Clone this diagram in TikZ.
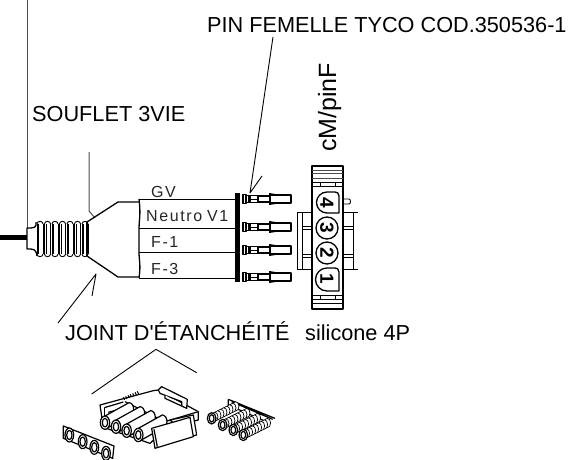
\documentclass[tikz,border=0pt]{standalone}
\usepackage{fontspec}
\setmainfont{Liberation Sans}
\newfontfamily\plainlabel{Liberation Sans}
\tikzset{
  cad/.style={line width=1.3pt,black,line join=round},
  thin cad/.style={line width=0.9pt,black,line join=round},
  grayline/.style={line width=1pt,black!70},
  lbl/.style={anchor=base west,inner sep=0pt,font=\fontsize{21.7}{22}\selectfont},
  wirelbl/.style={anchor=base west,inner sep=0pt,font=\fontsize{16}{16}\selectfont\addfontfeature{LetterSpace=10},black!85},
  iso/.style={line width=1.2pt,black,line join=round,fill=white}
}
\begin{document}
\begin{tikzpicture}[x=1pt,y=-1pt]
\useasboundingbox (0,0) rectangle (579,459);
% labels
\node[lbl] (pin) at (207,32) {PIN FEMELLE TYCO COD.350536-1};
\node[lbl] (souf) at (32,121) {SOUFLET 3VIE};
\node[lbl] (joint) at (65,340) {\plainlabel JOINT D'ÉTANCHÉITÉ};
\node[lbl] (sil) at (305,340) {silicone 4P};
\node[lbl,rotate=90,font=\fontsize{25}{25}\selectfont] (cm) at (336,152) {cM/pinF};
% leaders
\draw[grayline] (27,0) -- (27,228);
\draw[grayline] (89,152) -- (89,211) -- (95,218);
\draw[thin cad] (58,323) -- (96,274) -- (92,296);
\draw[thin cad] (273,37) -- (250,193) -- (262,176);
% cable
\draw[line width=5pt] (0,237) -- (27,237);
% boot
\draw[cad] (36,222) .. controls (37,228) and (34,228) .. (27,228) -- (27,249)
  .. controls (34,249) and (36,249) .. (37,256);
\foreach \a in {37,44.5,52,59.5,67,74.5,82}{
  \draw[thin cad] (\a,224) -- (\a,254) (\a+1.8,224) -- (\a+1.8,254) (\a+6,224) -- (\a+6,254);
  \draw[thin cad] (\a,224) .. controls (\a,220.5) and (\a+6,220.5) .. (\a+6,224);
  \draw[thin cad] (\a,254) .. controls (\a,257.5) and (\a+6,257.5) .. (\a+6,254);
}
\draw[cad] (87,222) -- (87,256);
\draw[cad] (87,222) -- (118,202) -- (139,202);
\draw[cad] (87,256) -- (118,277) -- (139,277);
% wires
\draw[cad] (139,199) .. controls (141,215) and (139,220) .. (139,228) -- (139,252) .. controls (139,260) and (141,265) .. (139,278);
\draw[thin cad] (139,199) -- (235,199) (139,228) -- (235,228) (139,252) -- (235,252) (139,278) -- (235,278);
\node[wirelbl] (gv) at (151,197) {GV};
\node[wirelbl] (neutro) at (146,221) {Neutro\hspace{5pt}V1};
\node[wirelbl] (f1) at (151,247) {F-1};
\node[wirelbl] (f3) at (151,274) {F-3};
\fill (235,193) rectangle (239.5,282);
% pins
\foreach \y in {199,227,250,277}{
  \draw[cad] (243,\y-4.5) rectangle (246,\y+4.5);
  \draw[cad] (246,\y-3.5) rectangle (258,\y+3.5);
  \fill (248,\y-3.5) rectangle (251,\y+3.5);
  \draw[thin cad] (251,\y) -- (258,\y);
  \draw[line width=1.6pt] (258,\y-3) -- (270,\y-3) (258,\y+3) -- (270,\y+3);
  \draw[thin cad] (270,\y-6) -- (270,\y+6);
  \draw[cad] (270,\y-4) rectangle (291,\y+4);
  \fill (269,\y-6) -- (282,\y-4) -- (269,\y-3) -- cycle;
  \fill (269,\y+6) -- (282,\y+4) -- (269,\y+3) -- cycle;
}
% connector
\draw[cad] (312,166) rectangle (343,309);
\draw[thin cad,black!70] (312,170) -- (343,170) (312,173) -- (343,173) (312,178) -- (343,178);
\draw[thin cad] (312,182) -- (343,182)
 (312,186) -- (343,186) (312,295) -- (343,295) (312,299) -- (343,299) (312,303) -- (343,303);
\draw[thin cad] (320,182) -- (320,186) (335,182) -- (335,186) (320,295) -- (320,299) (335,295) -- (335,299);
\draw[cad] (335,192) -- (327,192) arc (-90:-270:10.5) -- (339,213) -- (339,196) .. controls (339,193) and (337,192) .. (335,192) -- cycle;
\draw[cad] (335,268) -- (327,268) arc (-90:-270:11.5) -- (339,291) -- (339,272) .. controls (339,269) and (337,268) .. (335,268) -- cycle;
\draw[cad,fill=white] (327,228) circle (11);
\draw[cad,fill=white] (327,253) circle (11);
\foreach \y/\d in {203/4,228/3,253/2,279/1}{
  \node[rotate=-90,inner sep=0pt,font=\fontsize{19}{19}\selectfont\bfseries] (d\d) at (327,\y) {\d};
}
\draw[thin cad] (343,199) -- (349,199) .. controls (351,199) and (351,204) .. (349,204) -- (343,204);
\draw[thin cad] (297,212) -- (297,269) (302,212) -- (302,269) (297,212) -- (312,212) (297,269) -- (312,269);
\draw[thin cad] (302,226) -- (312,226) (302,229) -- (312,229) (302,254) -- (312,254) (302,257) -- (312,257);
\draw[thin cad] (343,212) -- (358,212) (343,269) -- (358,269) (353,212) -- (353,269);
\draw[thin cad] (343,226) -- (353,226) (343,229) -- (353,229) (343,254) -- (353,254) (343,257) -- (353,257);
% exploded view (zoom coordinates, scale 1/3)
\begin{scope}[shift={(50,340)},x=0.3333pt,y=-0.3333pt]
  \draw[line width=0.9pt] (125,162) -- (318,28) -- (440,98);
  % main housing
  \draw[iso] (150,195) -- (220,176) -- (310,152) -- (325,150) -- (445,215) -- (445,240) -- (350,265) -- (300,310) -- (160,262) -- cycle;
  \draw[iso] (163,203) -- (163,240);
  \draw[iso] (163,203) -- (220,186);
  \draw[iso] (225,185) -- (345,245) -- (445,215);
  \draw[iso] (175,217) -- (225,203);
  \foreach \i in {0,...,6}{\draw[line width=1pt] (220+7*\i,172-3*\i) -- (224+7*\i,180-3*\i);}
  % cylinders
  \foreach \x/\y in {165/248,198/260,230/272,265/285}{
    \begin{scope}[shift={(\x,\y)}]
      \draw[iso] (0,-20) -- (72,-60) arc (-90:90:14 and 20) -- (0,20) -- cycle;
      \draw[iso] (0,0) ellipse (14 and 20);
      \draw[iso] (0,0) ellipse (8 and 13);
    \end{scope}
  }
  % rear latch
  \draw[iso] (325,150) -- (335,140) -- (412,178) -- (410,205) -- (395,198) -- (395,185) -- (330,160) -- cycle;
  \draw[iso] (345,165) -- (345,175) -- (395,198);
  % front plate
  \draw[iso] (360,240) -- (430,225) -- (440,285) -- (420,290) -- cycle;
  \draw[iso] (305,265) -- (420,232) -- (430,290) -- (315,325) -- cycle;
  \draw[iso] (312,268) -- (322,320);
  % seal plate
  \draw[iso] (40,258) -- (192,318) -- (188,355) -- (40,295) -- cycle;
  \foreach \x/\y in {58/285,98/305,133/322,168/340}{
    \draw[iso] (\x,\y) ellipse (13 and 21);
    \draw[iso] (\x,\y) ellipse (8 and 14);
  }
  % springs frame
  \draw[iso,fill=none] (535,178) -- (675,235) (535,178) -- (535,195) -- (660,250) (545,185) -- (668,238);
  % springs
  \foreach \x/\y in {485/235,518/255,550/270,580/285}{
    \begin{scope}[shift={(\x,\y)}]
      \foreach \i in {8,...,1}{
        \draw[line width=0.7pt,fill=white] (9*\i,-4.5*\i) ellipse (10 and 14);
      }
      \draw[iso] (0,0) ellipse (13 and 17);
      \draw[iso] (0,0) ellipse (7 and 11);
    \end{scope}
  }
\end{scope}
\end{tikzpicture}
\end{document}
